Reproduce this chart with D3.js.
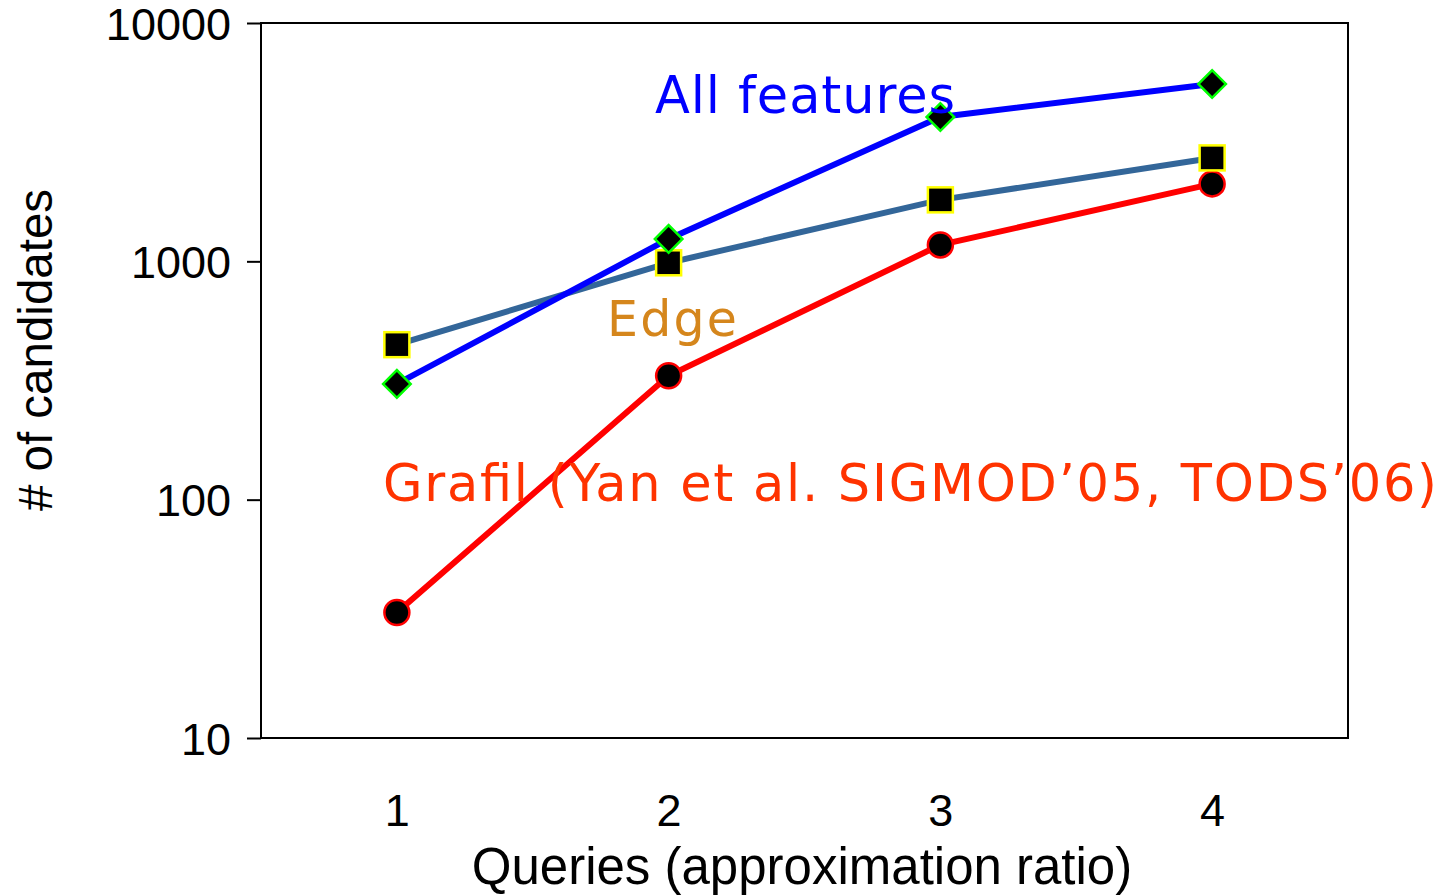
<!DOCTYPE html>
<html>
<head>
<meta charset="utf-8">
<script src="https://cdn.jsdelivr.net/npm/d3@7"></script>
<style>
  body { margin: 0; background: #fff; }
  svg { display: block; }
</style>
</head>
<body>
<div id="chart"></div>
<script>
"use strict";
// data
const queries = [1, 2, 3, 4];
const allFeatures = [306, 1242, 4035, 5550];
const edge = [447, 986, 1811, 2716];
const grafil = [33.6, 331, 1172, 2113];
const yTicks = [10, 100, 1000, 10000];

const W = 1445, H = 896;
const plotLeft = 261, plotRight = 1348, plotTop = 23, plotBottom = 738;
const ARIAL = "'Liberation Sans', Arimo, Arial, Helvetica, sans-serif";
const VERDANA = "'DejaVu Sans', Verdana, sans-serif";

const svg = d3.select('#chart').append('svg').attr('width', W).attr('height', H);

const x = d3.scaleLinear().domain([0.5, 4.5]).range([plotLeft, plotRight]);
const y = d3.scaleLog().domain([10, 10000]).range([plotBottom, plotTop]);

// frame
svg.append('rect')
  .attr('x', plotLeft).attr('y', plotTop)
  .attr('width', plotRight - plotLeft).attr('height', plotBottom - plotTop)
  .attr('fill', 'none').attr('stroke', '#000').attr('stroke-width', 2);

// y axis
let yAxis = svg.append('g')
  .attr('transform', 'translate(' + plotLeft + ',0)')
  .call(d3.axisLeft(y).tickValues(yTicks).tickFormat(d3.format('d')).tickSize(14).tickPadding(16));
yAxis.select('.domain').remove();
yAxis.selectAll('line').attr('stroke', '#000').attr('stroke-width', 2);
yAxis.selectAll('text')
  .style('font-family', ARIAL)
  .style('font-size', '45px').attr('fill', '#000').attr('dy', '0.36em');

// x axis (labels only)
let xAxis = svg.append('g')
  .attr('transform', 'translate(0,' + plotBottom + ')')
  .call(d3.axisBottom(x).tickValues(queries).tickFormat(d3.format('d')).tickSize(0).tickPadding(56));
xAxis.select('.domain').remove();
xAxis.selectAll('text')
  .style('font-family', ARIAL)
  .style('font-size', '45px').attr('fill', '#000');

// axis titles
svg.append('text')
  .style('font-family', ARIAL)
  .attr('x', 802).attr('y', 884)
  .attr('text-anchor', 'middle')
  .style('font-size', '51px')
  .text('Queries (approximation ratio)');

svg.append('text')
  .style('font-family', ARIAL)
  .attr('transform', 'translate(52,350) rotate(-90)')
  .attr('text-anchor', 'middle')
  .style('font-size', '47.5px')
  .text('# of candidates');

const line = d3.line().x((d, i) => x(queries[i])).y(d => y(d));

// grafil (red) first, then edge, then all features on top
svg.append('path').datum(grafil).attr('d', line)
  .attr('fill', 'none').attr('stroke', '#ff0000').attr('stroke-width', 6);
svg.selectAll('circle.grafil').data(grafil).enter().append('circle')
  .attr('class', 'grafil')
  .attr('cx', (d, i) => x(queries[i])).attr('cy', d => y(d))
  .attr('r', 12.5).attr('fill', '#000').attr('stroke', '#ff0000').attr('stroke-width', 2.5);

svg.append('path').datum(edge).attr('d', line)
  .attr('fill', 'none').attr('stroke', '#336699').attr('stroke-width', 6);
svg.selectAll('rect.edge').data(edge).enter().append('rect')
  .attr('class', 'edge')
  .attr('x', (d, i) => x(queries[i]) - 12.5).attr('y', d => y(d) - 12.5)
  .attr('width', 25).attr('height', 25)
  .attr('fill', '#000').attr('stroke', '#ffff00').attr('stroke-width', 2.5);

svg.append('path').datum(allFeatures).attr('d', line)
  .attr('fill', 'none').attr('stroke', '#0000ff').attr('stroke-width', 6);
svg.selectAll('path.allf').data(allFeatures).enter().append('path')
  .attr('class', 'allf')
  .attr('d', d3.symbol().type(d3.symbolSquare).size(380))
  .attr('transform', (d, i) => 'translate(' + x(queries[i]) + ',' + y(d) + ') rotate(45)')
  .attr('fill', '#000').attr('stroke', '#00ff00').attr('stroke-width', 2.5);

// series labels
svg.append('text').style('font-family', VERDANA).attr('x', 655).attr('y', 113)
  .style('font-size', '51px').attr('textLength', 300).attr('lengthAdjust', 'spacing')
  .attr('fill', '#0000ff').text('All features');
svg.append('text').style('font-family', VERDANA).attr('x', 607).attr('y', 336)
  .style('font-size', '49px').attr('textLength', 130).attr('lengthAdjust', 'spacing')
  .attr('fill', '#d5861c').text('Edge');
svg.append('text').style('font-family', VERDANA).attr('x', 383).attr('y', 501)
  .style('font-size', '51px').attr('textLength', 1054).attr('lengthAdjust', 'spacing')
  .attr('fill', '#ff3300').text('Grafil (Yan et al. SIGMOD\u201905, TODS\u201906)');
</script>
</body>
</html>
